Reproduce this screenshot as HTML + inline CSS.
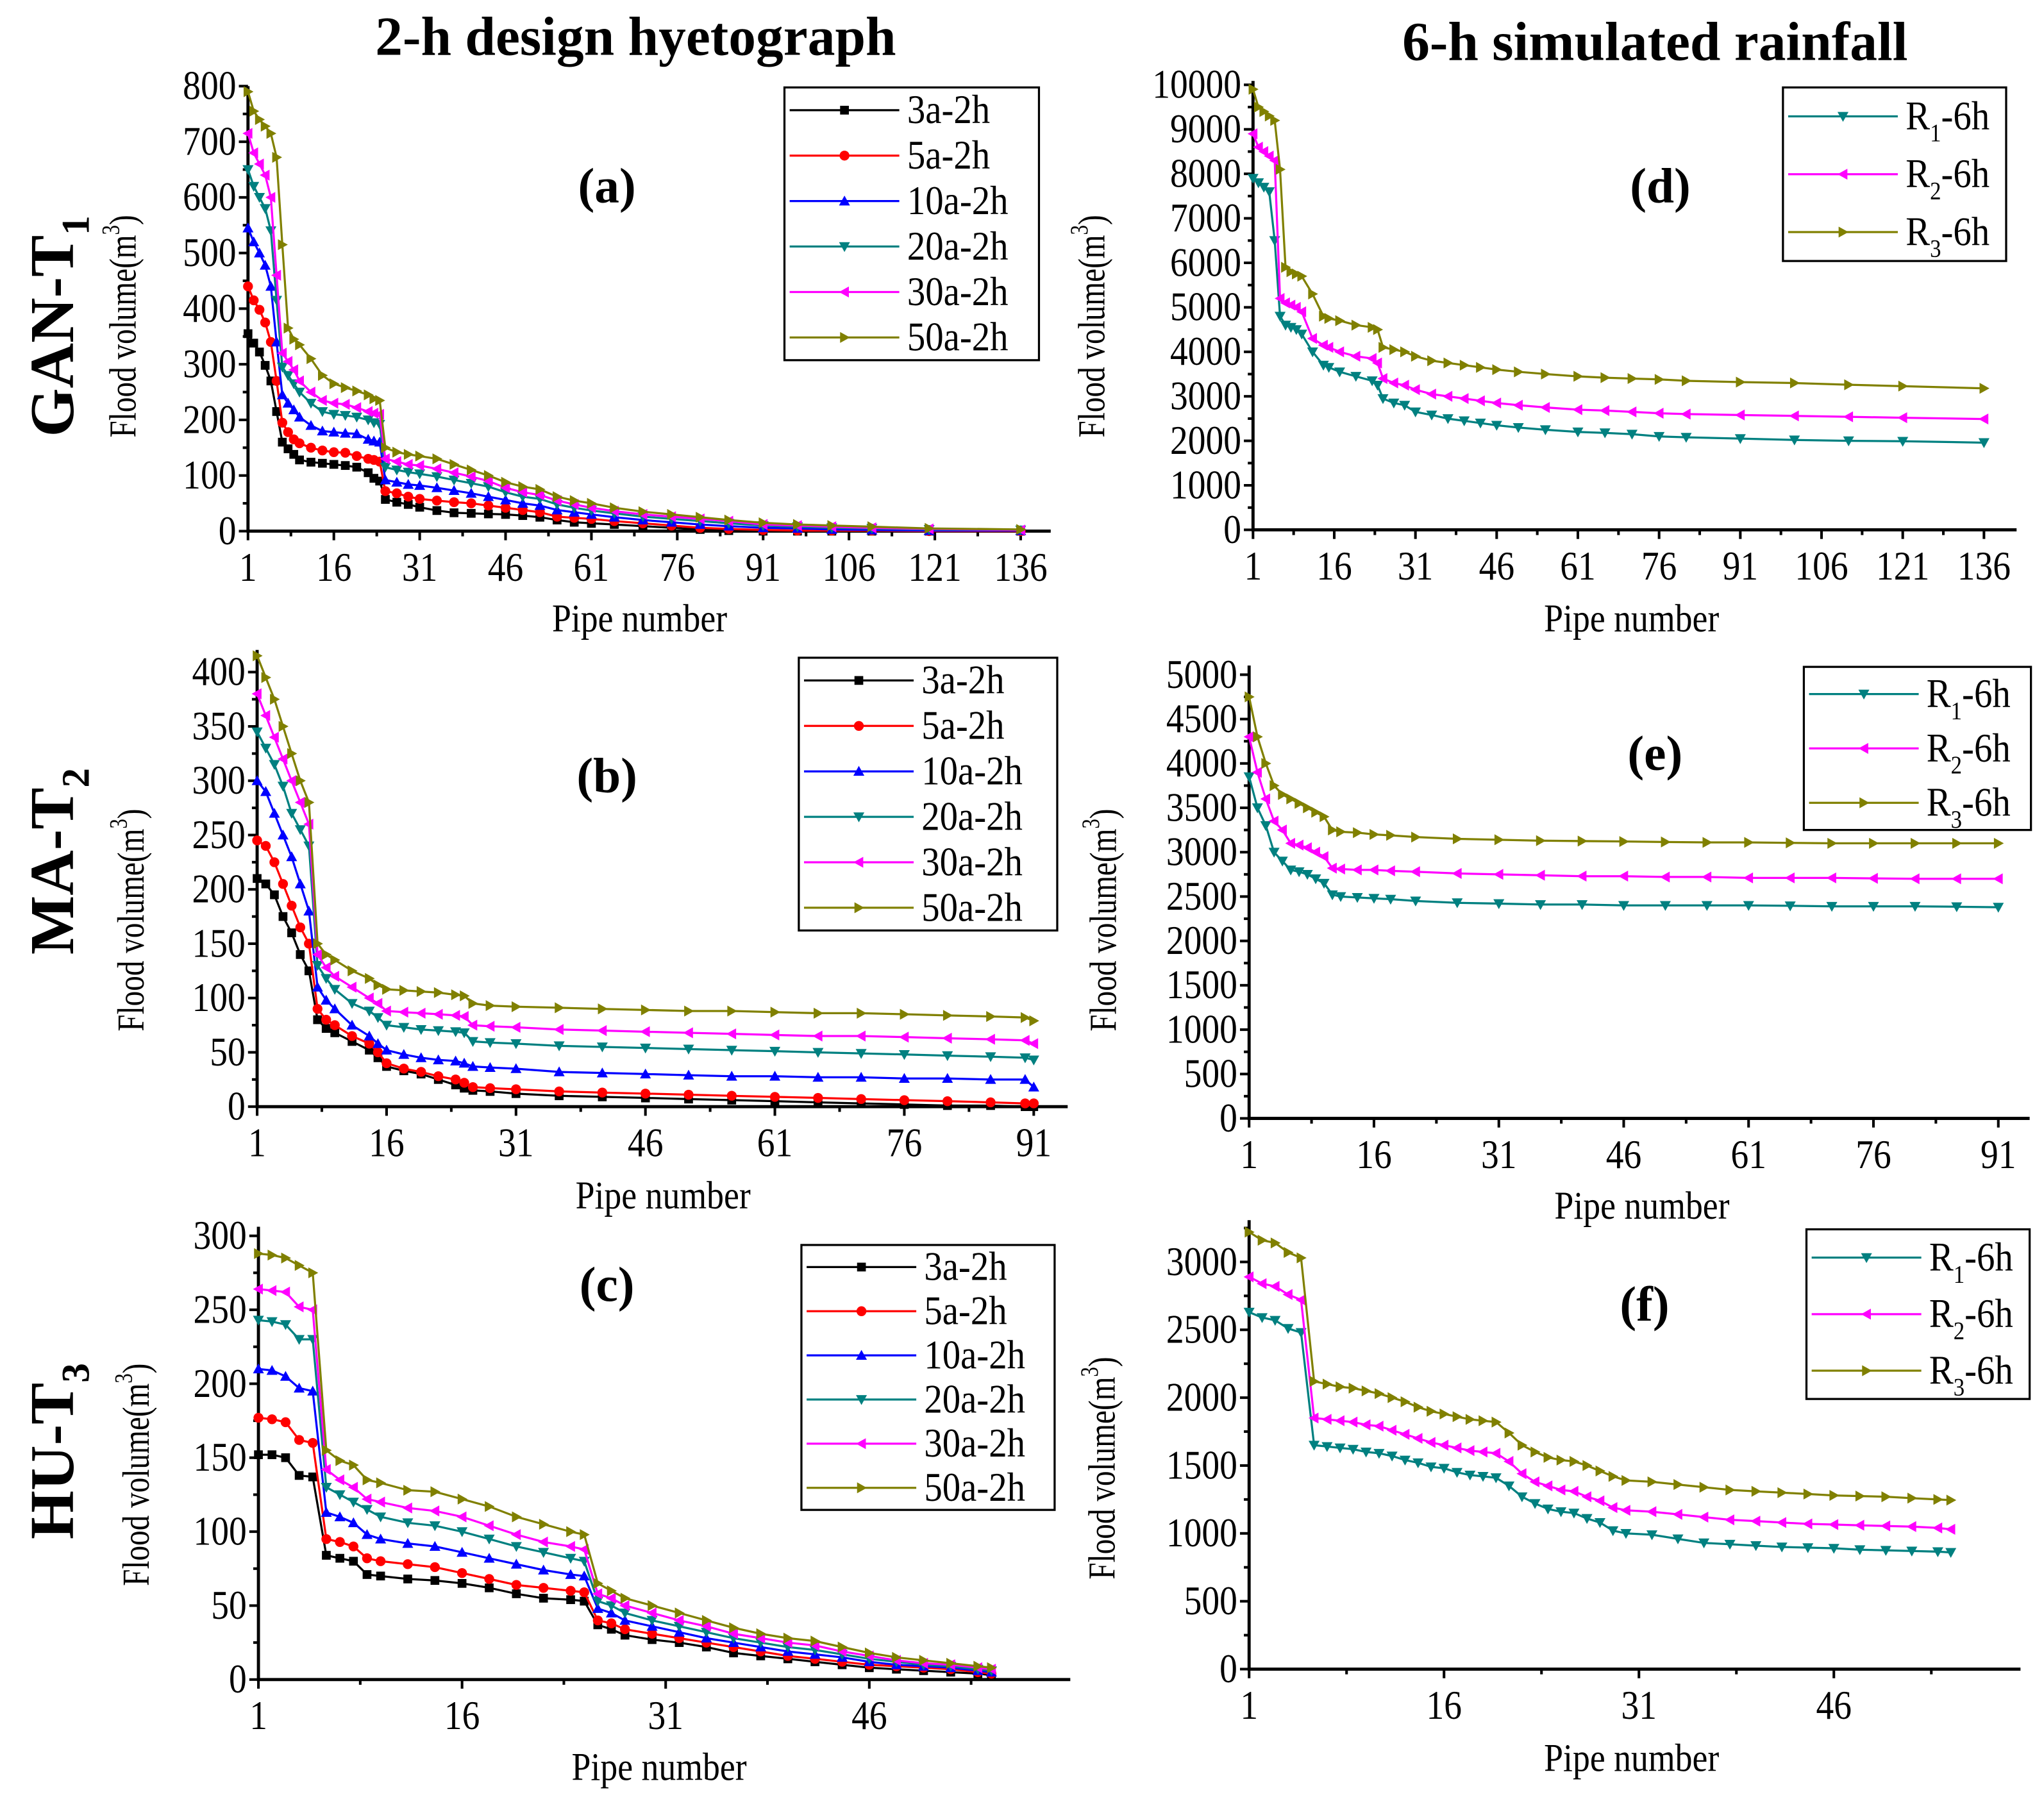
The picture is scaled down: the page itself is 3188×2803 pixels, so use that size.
<!DOCTYPE html>
<html><head><meta charset="utf-8"><style>
html,body{margin:0;padding:0;background:#fff}
svg{display:block}
text{font-family:"Liberation Serif",serif}
</style></head><body>
<svg id="chart" xmlns="http://www.w3.org/2000/svg" width="3188" height="2803" viewBox="0 0 1566 1377" preserveAspectRatio="none">
<rect width="1566" height="1377" fill="#fff"/>
<text x="487" y="42" font-size="42" font-weight="bold" text-anchor="middle">2-h design hyetograph</text>
<text x="1268" y="46" font-size="42" font-weight="bold" text-anchor="middle">6-h simulated rainfall</text>
<text transform="translate(56,250) rotate(-90)" font-size="48" font-weight="bold" text-anchor="middle">GAN-T<tspan font-size="30" dy="12">1</tspan></text>
<text transform="translate(56,660) rotate(-90)" font-size="48" font-weight="bold" text-anchor="middle">MA-T<tspan font-size="30" dy="12">2</tspan></text>
<text transform="translate(56,1112) rotate(-90)" font-size="48" font-weight="bold" text-anchor="middle">HU-T<tspan font-size="30" dy="12">3</tspan></text>
</svg>
<script>
// ---------- data ----------
const legendA = ["3a-2h","5a-2h","10a-2h","20a-2h","30a-2h","50a-2h"];
const legendR = ["R1","R2","R3"];
const pipesA = [1,2,3,4,5,6,7,8,9,10,12,14,16,18,20,22,23,24,25,27,29,31,34,37,40,43,46,49,52,55,58,61,65,70,75,80,85,91,97,103,110,120,136];
const a3 = [355,338,322,298,270,215,160,148,138,128,124,122,120,118,115,105,95,90,57,52,48,43,37,33,32,31,30,28,25,20,16,14,12,9,6,3,1,0,0,0,0,0,0];
const a5 = [440,415,398,375,340,270,195,178,165,158,150,145,142,141,135,130,128,125,72,68,62,58,55,52,50,46,42,38,34,26,24,22,18,14,10,6,4,2,1,1,1,0,0];
const a10 = [545,520,500,478,440,340,245,230,218,205,190,180,178,176,175,165,162,160,92,88,84,82,78,73,68,62,56,50,46,38,34,30,25,20,16,12,9,6,5,3,2,1,1];
const a20 = [650,620,600,580,540,415,295,280,265,250,230,215,210,208,205,200,195,192,115,110,106,103,98,92,86,80,70,62,58,48,42,37,32,26,22,18,14,10,8,6,5,3,2];
const a30 = [715,680,660,640,600,460,320,305,290,270,250,235,230,228,222,215,212,210,130,125,120,118,112,105,98,90,78,70,65,55,48,42,36,30,26,22,18,12,10,8,6,4,2];
const a50 = [790,755,740,728,715,672,515,365,345,335,310,280,265,258,252,245,238,235,150,142,138,135,130,120,110,100,88,80,75,62,55,50,42,35,30,25,20,15,12,10,8,5,3];
const pipesD = [1,2,3,4,5,6,7,8,9,10,12,14,15,17,20,23,24,25,27,29,31,34,37,40,43,46,50,55,61,66,71,76,81,91,101,111,121,136];
const d1 = [7900,7800,7700,7600,6500,4800,4600,4550,4500,4400,4000,3700,3650,3550,3450,3350,3250,2950,2850,2800,2650,2580,2500,2450,2400,2350,2300,2250,2200,2180,2150,2100,2080,2050,2020,2000,1990,1960];
const d2 = [8900,8600,8500,8400,8300,5200,5100,5050,5000,4900,4300,4150,4100,4000,3900,3850,3750,3400,3300,3250,3150,3050,3000,2950,2900,2850,2800,2750,2700,2680,2650,2620,2600,2580,2560,2540,2520,2490];
const d3 = [9900,9500,9400,9300,9200,8100,5900,5800,5750,5700,5300,4800,4750,4700,4600,4550,4500,4100,4050,4000,3900,3800,3750,3700,3650,3600,3550,3500,3450,3420,3400,3380,3350,3320,3300,3260,3230,3180];
const pipesB = [1,2,3,4,5,6,7,8,9,10,12,14,15,16,18,20,22,24,25,26,28,31,36,41,46,51,56,61,66,71,76,81,86,90,91];
const b3 = [210,205,195,175,160,140,125,80,72,68,60,52,45,37,33,30,25,20,17,15,14,12,10,9,8,7,6,5,4,3,2,1,1,0,0];
const b5 = [245,240,225,205,185,165,150,90,80,75,65,58,50,40,35,32,28,25,22,18,17,16,14,13,12,11,10,9,8,7,6,5,4,3,3];
const b10 = [300,290,270,250,230,205,180,110,98,90,75,65,58,52,48,45,43,42,40,37,36,35,32,31,30,29,28,28,27,27,26,26,25,25,18];
const b20 = [345,330,315,295,270,255,240,130,118,108,95,88,82,75,73,71,70,69,68,60,59,58,56,55,54,53,52,51,50,49,48,47,46,45,43];
const b30 = [380,360,340,320,300,280,260,140,128,120,110,100,95,88,87,86,85,84,83,75,74,73,71,70,69,68,67,66,65,65,64,63,62,61,58];
const b50 = [415,395,375,350,325,300,280,150,140,135,125,118,112,108,107,106,105,103,102,95,93,92,91,90,89,88,88,87,86,86,85,84,83,82,79];
const pipesE = [1,2,3,4,5,6,7,8,9,10,11,12,14,16,18,21,26,31,36,41,46,51,56,61,66,71,76,81,86,91];
const e1 = [3850,3500,3300,3000,2900,2800,2780,2750,2700,2650,2520,2500,2490,2480,2470,2450,2430,2420,2410,2410,2400,2400,2400,2400,2395,2390,2390,2390,2385,2380];
const e2 = [4300,3900,3600,3350,3250,3100,3080,3050,3000,2950,2820,2810,2800,2800,2790,2780,2760,2750,2740,2730,2730,2720,2720,2710,2710,2710,2705,2700,2700,2700];
const e3 = [4750,4300,4000,3750,3650,3600,3550,3500,3450,3400,3250,3230,3220,3200,3190,3170,3150,3140,3130,3125,3120,3115,3110,3110,3105,3100,3100,3100,3100,3100];
const pipesC = [1,2,3,4,5,6,7,8,9,10,12,14,16,18,20,22,24,25,26,27,28,30,32,34,36,38,40,42,44,46,48,50,52,54,55];
const c3 = [152,152,150,138,137,84,82,80,71,70,68,67,65,62,58,55,54,53,37,34,30,27,25,22,18,16,14,12,10,8,7,6,5,4,3];
const c5 = [177,176,174,162,160,95,93,90,82,80,78,76,72,68,64,62,60,59,40,38,34,31,28,25,22,19,16,14,12,10,9,8,7,5,4];
const c10 = [210,209,205,197,195,113,110,106,98,95,92,90,86,82,78,74,71,70,48,45,40,36,32,28,25,22,19,17,15,12,10,9,8,6,5];
const c20 = [243,242,240,230,230,130,125,120,115,110,106,104,100,95,90,86,82,80,53,50,45,40,36,32,28,25,22,20,17,14,12,10,9,7,6];
const c30 = [264,263,262,252,250,142,135,130,122,120,116,114,110,104,98,93,90,88,58,55,50,45,40,36,31,28,25,23,19,16,13,11,10,8,7];
const c50 = [288,287,285,280,275,155,148,145,135,133,128,127,122,117,110,105,100,98,65,60,55,50,45,40,35,31,28,26,22,18,15,13,11,9,8];
const pipesF = [1,2,3,4,5,6,7,8,9,10,11,12,13,14,15,16,17,18,19,20,21,22,23,24,25,26,27,28,29,30,32,34,36,38,40,42,44,46,48,50,52,54,55];
const f1 = [2630,2590,2570,2510,2480,1650,1640,1630,1620,1600,1590,1570,1540,1520,1490,1480,1450,1430,1420,1410,1350,1270,1220,1180,1160,1150,1110,1080,1020,1000,990,960,930,920,910,900,895,890,880,875,870,865,860];
const f2 = [2890,2840,2820,2760,2720,1850,1840,1830,1820,1800,1790,1760,1730,1700,1670,1650,1630,1610,1600,1590,1530,1440,1380,1350,1320,1310,1270,1240,1190,1170,1160,1140,1120,1100,1090,1080,1070,1065,1060,1055,1050,1040,1030];
const f3 = [3220,3160,3140,3070,3030,2120,2100,2080,2070,2050,2030,2000,1970,1930,1900,1880,1860,1840,1830,1820,1740,1650,1600,1560,1540,1530,1500,1460,1420,1390,1380,1360,1340,1320,1310,1300,1290,1280,1275,1270,1260,1250,1245];
const xTicksA = [1,16,31,46,61,76,91,106,121,136];
const xTicksB = [1,16,31,46,61,76,91];
const xTicksC = [1,16,31,46];

// ---------- drawing ----------
const NS = "http://www.w3.org/2000/svg";
const svg = document.getElementById("chart");
function mk(tag, parent){const e=document.createElementNS(NS,tag);parent.appendChild(e);return e;}
const COLORS6 = ["#000000","#ff0000","#0000ff","#008080","#ff00ff","#808000"];
const MK6 = ["square","circle","up","down","left","right"];
const COLORS3 = ["#008080","#ff00ff","#808000"];
const MK3 = ["down","left","right"];
const TICK_FS = 31;

function marker(g, type, x, y, c, s){
  let e;
  if(type==="square"){e=mk("rect",g);e.setAttribute("x",x-s*0.8);e.setAttribute("y",y-s*0.8);e.setAttribute("width",s*1.6);e.setAttribute("height",s*1.6);}
  else if(type==="circle"){e=mk("circle",g);e.setAttribute("cx",x);e.setAttribute("cy",y);e.setAttribute("r",s*0.9);}
  else{
    let p;
    if(type==="up")p=[[x,y-s],[x-s,y+s*0.8],[x+s,y+s*0.8]];
    if(type==="down")p=[[x,y+s],[x-s,y-s*0.8],[x+s,y-s*0.8]];
    if(type==="left")p=[[x-s,y],[x+s*0.8,y-s],[x+s*0.8,y+s]];
    if(type==="right")p=[[x+s,y],[x-s*0.8,y-s],[x-s*0.8,y+s]];
    e=mk("polygon",g);e.setAttribute("points",p.map(q=>q.join(",")).join(" "));
  }
  e.setAttribute("fill",c);
  
  
}

function condText(g, x, y, fs, anchor, str){
  const t=mk("text",g);
  t.setAttribute("transform",`translate(${x},${y}) scale(0.88,1)`);
  t.setAttribute("font-size",fs);t.setAttribute("text-anchor",anchor);
  t.textContent=str;
  return t;
}

function panel(o){
  const g=mk("g",svg);
  
  
  const sx=v=>o.x0+(v-1)*(o.x1-o.x0)/(o.xmaxTick-1);
  const sy=v=>o.y0-(v/o.ymaxTick)*(o.y0-o.y1);
  const ax=mk("path",g);
  ax.setAttribute("d",`M${o.x0},${o.axTop} V${o.y0} H${o.axRight}`);
  ax.setAttribute("stroke","#000");ax.setAttribute("stroke-width","2.4");ax.setAttribute("fill","none");
  
  
  for(let v=0; v<=o.ymaxTick+1e-9; v+=o.ystep){
    const y=sy(v);
    const t=mk("line",g);t.setAttribute("x1",o.x0-7);t.setAttribute("x2",o.x0);t.setAttribute("y1",y);t.setAttribute("y2",y);t.setAttribute("stroke","#000");t.setAttribute("stroke-width","2");
    
    
    const lb=condText(g,o.x0-9,y+10,TICK_FS,"end",String(Math.round(v)));
    
    
    const ym=sy(v+o.ystep/2);
    if(ym>o.axTop-1){const m=mk("line",g);m.setAttribute("x1",o.x0-4);m.setAttribute("x2",o.x0);m.setAttribute("y1",ym);m.setAttribute("y2",ym);m.setAttribute("stroke","#000");m.setAttribute("stroke-width","2");
      
      }
  }
  o.xticks.forEach((v,i)=>{
    const x=sx(v);
    const t=mk("line",g);t.setAttribute("x1",x);t.setAttribute("x2",x);t.setAttribute("y1",o.y0);t.setAttribute("y2",o.y0+7);t.setAttribute("stroke","#000");t.setAttribute("stroke-width","2");
    
    
    const lb=condText(g,x,o.y0+38,TICK_FS,"middle",String(v));
    
    
    const xm=sx(v+7.5);
    if(xm<o.axRight){const m=mk("line",g);m.setAttribute("x1",xm);m.setAttribute("x2",xm);m.setAttribute("y1",o.y0);m.setAttribute("y2",o.y0+4);m.setAttribute("stroke","#000");m.setAttribute("stroke-width","2");
      
      }
  });
  const xl=condText(g,o.xlab[0],o.xlab[1],30,"middle","Pipe number");
  
  
  const yl=mk("text",g);yl.setAttribute("transform",`translate(${o.ylab[0]},${o.ylab[1]}) rotate(-90) scale(0.8,1)`);yl.setAttribute("font-size","29");yl.setAttribute("text-anchor","middle");
  yl.innerHTML='Flood volume(m<tspan dy="-13" font-size="19">3</tspan><tspan dy="13">)</tspan>';
  
  
  const pl=mk("text",g);pl.setAttribute("x",o.letter[0]);pl.setAttribute("y",o.letter[1]);pl.setAttribute("font-size","38");pl.setAttribute("font-weight","bold");pl.setAttribute("text-anchor","middle");pl.textContent="("+o.id+")";
  
  
  o.series.forEach((s,k)=>{
    const sg=mk("g",g);
    
    
    const n=Math.min(o.pipes.length,s.length);
    const pts=[];for(let i=0;i<n;i++)pts.push(sx(o.pipes[i]).toFixed(1)+","+sy(s[i]).toFixed(1));
    const pl2=mk("polyline",sg);pl2.setAttribute("points",pts.join(" "));pl2.setAttribute("fill","none");pl2.setAttribute("stroke",o.colors[k]);pl2.setAttribute("stroke-width","1.6");
    
    
    for(let i=0;i<n;i++)marker(sg,o.markers[k],sx(o.pipes[i]),sy(s[i]),o.colors[k],4.2);
  });
  const L=o.legend;
  const lg=mk("g",g);
  
  
  const box=mk("rect",lg);box.setAttribute("x",L.x);box.setAttribute("y",L.y);box.setAttribute("width",L.w);box.setAttribute("height",L.h);box.setAttribute("fill","#fff");box.setAttribute("stroke","#000");box.setAttribute("stroke-width","1.6");
  const rh=L.h/o.names.length;
  o.names.forEach((nm,k)=>{
    const cy=L.y+rh*(k+0.5);
    const e=mk("g",lg);
    
    
    const ln=mk("line",e);ln.setAttribute("x1",L.x+4);ln.setAttribute("x2",L.x+L.lineW);ln.setAttribute("y1",cy);ln.setAttribute("y2",cy);ln.setAttribute("stroke",o.colors[k]);ln.setAttribute("stroke-width","1.6");
    marker(e,o.markers[k],L.x+4+(L.lineW-4)/2,cy,o.colors[k],4.2);
    const t=mk("text",e);t.setAttribute("transform",`translate(${L.x+L.lineW+6},${cy+10}) scale(0.9,1)`);t.setAttribute("font-size","31");
    if(nm.startsWith("R")) t.innerHTML='R<tspan dy="9" font-size="19">'+nm.slice(1)+'</tspan><tspan dy="-9">-6h</tspan>';
    else t.textContent=nm;
  });
}

panel({id:"a",x0:190,x1:782,xmaxTick:136,y0:407,y1:66,ymaxTick:800,ystep:100,axTop:66,axRight:805,xticks:xTicksA,
  pipes:pipesA,series:[a3,a5,a10,a20,a30,a50],names:legendA,colors:COLORS6,markers:MK6,
  xlab:[490,484],ylab:[104,250],letter:[465,155],legend:{x:601,y:67,w:195,h:209,lineW:88}});
panel({id:"d",x0:960,x1:1520,xmaxTick:136,y0:406,y1:65,ymaxTick:10000,ystep:1000,axTop:62,axRight:1545,xticks:xTicksA,
  pipes:pipesD,series:[d1,d2,d3],names:legendR,colors:COLORS3,markers:MK3,
  xlab:[1250,484],ylab:[846,250],letter:[1272,155],legend:{x:1366,y:67,w:171,h:133,lineW:88}});
panel({id:"b",x0:197,x1:792,xmaxTick:91,y0:848,y1:515,ymaxTick:400,ystep:50,axTop:498,axRight:818,xticks:xTicksB,
  pipes:pipesB,series:[b3,b5,b10,b20,b30,b50],names:legendA,colors:COLORS6,markers:MK6,
  xlab:[508,926],ylab:[110,705],letter:[465,607],legend:{x:612,y:504,w:198,h:209,lineW:88}});
panel({id:"e",x0:957,x1:1531,xmaxTick:91,y0:857,y1:517,ymaxTick:5000,ystep:500,axTop:510,axRight:1555,xticks:xTicksB,
  pipes:pipesE,series:[e1,e2,e3],names:legendR,colors:COLORS3,markers:MK3,
  xlab:[1258,934],ylab:[855,705],letter:[1268,590],legend:{x:1382,y:511,w:174,h:125,lineW:88}});
panel({id:"c",x0:198,x1:666,xmaxTick:46,y0:1287,y1:947,ymaxTick:300,ystep:50,axTop:940,axRight:820,xticks:xTicksC,
  pipes:pipesC,series:[c3,c5,c10,c20,c30,c50],names:legendA,colors:COLORS6,markers:MK6,
  xlab:[505,1364],ylab:[114,1130],letter:[465,997],legend:{x:614,y:954,w:194,h:203,lineW:88}});
panel({id:"f",x0:957,x1:1405,xmaxTick:46,y0:1279,y1:967,ymaxTick:3000,ystep:500,axTop:935,axRight:1548,xticks:xTicksC,
  pipes:pipesF,series:[f1,f2,f3],names:legendR,colors:COLORS3,markers:MK3,
  xlab:[1250,1357],ylab:[854,1125],letter:[1260,1012],legend:{x:1384,y:942,w:171,h:130,lineW:88}});
</script>
</body></html>
